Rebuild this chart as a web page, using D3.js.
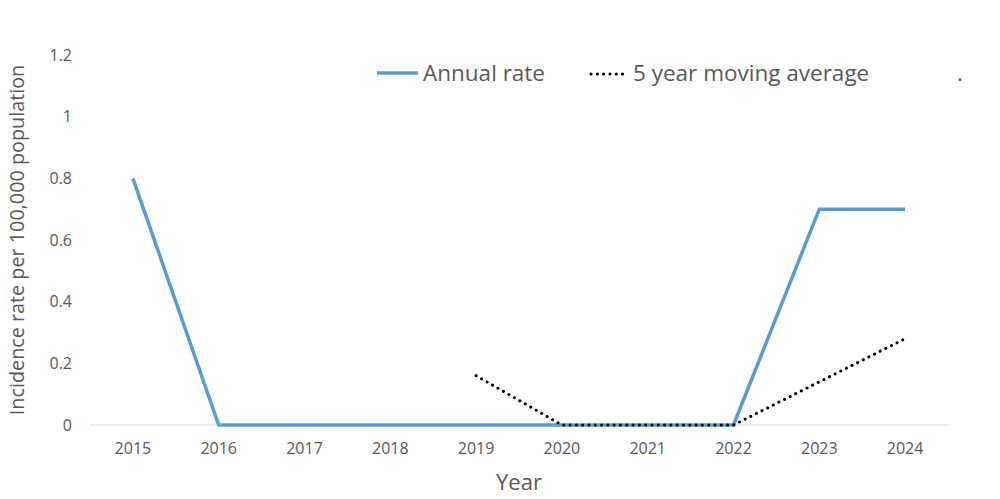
<!DOCTYPE html>
<html><head><meta charset="utf-8">
<script src="https://cdn.jsdelivr.net/npm/d3@7"></script>
<style>body{margin:0;background:#fff}svg text{font-family:"Open Sans",sans-serif;fill:#595959}</style>
</head><body>
<svg id="c" width="1000" height="499"></svg>
<script>
const years = ["2015","2016","2017","2018","2019","2020","2021","2022","2023","2024"];
const annualRate = [0.8,0,0,0,0,0,0,0,0.7,0.7];
const movingAvg = [null,null,null,null,0.16,0,0,0,0.14,0.28];
const yTicks = [0,0.2,0.4,0.6,0.8,1,1.2];

const svg = d3.select("#c");
const x = d3.scaleBand().domain(years).range([90,948]);
const y = d3.scaleLinear().domain([0,1.2]).range([425,55]);
const cx = d => x(d) + x.bandwidth()/2;

svg.append("line").attr("x1",90).attr("x2",948).attr("y1",y(0)).attr("y2",y(0))
  .attr("stroke","#d9d9d9").attr("stroke-width",1);

const yAxis = svg.append("g").attr("transform","translate(80,0)")
  .call(d3.axisLeft(y).tickValues(yTicks).tickSize(0).tickPadding(8).tickFormat(d=>String(d)));
yAxis.select(".domain").remove();
yAxis.selectAll("text").attr("font-size",16).attr("fill","#595959");

const xAxis = svg.append("g").attr("transform","translate(0,"+y(0)+")")
  .call(d3.axisBottom(x).tickSize(0).tickPadding(18));
xAxis.select(".domain").remove();
xAxis.selectAll("text").attr("font-size",16).attr("fill","#595959");

svg.append("text").attr("x",519).attr("y",490).attr("text-anchor","middle")
  .attr("font-size",22).text("Year");
svg.append("text").attr("transform","translate(24,240) rotate(-90)").attr("text-anchor","middle")
  .attr("font-size",19.8).text("Incidence rate per 100,000 population");

const line = d3.line().defined(d=>d[1]!==null).x(d=>cx(d[0])).y(d=>y(d[1]));
svg.append("path").datum(years.map((yr,i)=>[yr,annualRate[i]]))
  .attr("d",line).attr("fill","none").attr("stroke","#5b9bd5").attr("stroke-width",3.5).attr("stroke-linejoin","round");
svg.append("path").datum(years.map((yr,i)=>[yr,movingAvg[i]]))
  .attr("d",line).attr("fill","none").attr("stroke","#000").attr("stroke-width",3)
  .attr("stroke-dasharray","0.1 6.2").attr("stroke-linecap","round");

// legend
svg.append("line").attr("x1",377).attr("x2",418).attr("y1",73).attr("y2",73)
  .attr("stroke","#5b9bd5").attr("stroke-width",3.5);
svg.append("text").attr("x",423).attr("y",81).attr("font-size",22.5).text("Annual rate");
svg.append("line").attr("x1",591).attr("x2",627).attr("y1",74).attr("y2",74)
  .attr("stroke","#000").attr("stroke-width",3).attr("stroke-dasharray","0.1 6.2").attr("stroke-linecap","round");
svg.append("text").attr("x",633).attr("y",81).attr("font-size",22.5).text("5 year moving average");
svg.append("text").attr("x",957).attr("y",81).attr("font-size",22.5).text(".");
</script>
</body></html>
